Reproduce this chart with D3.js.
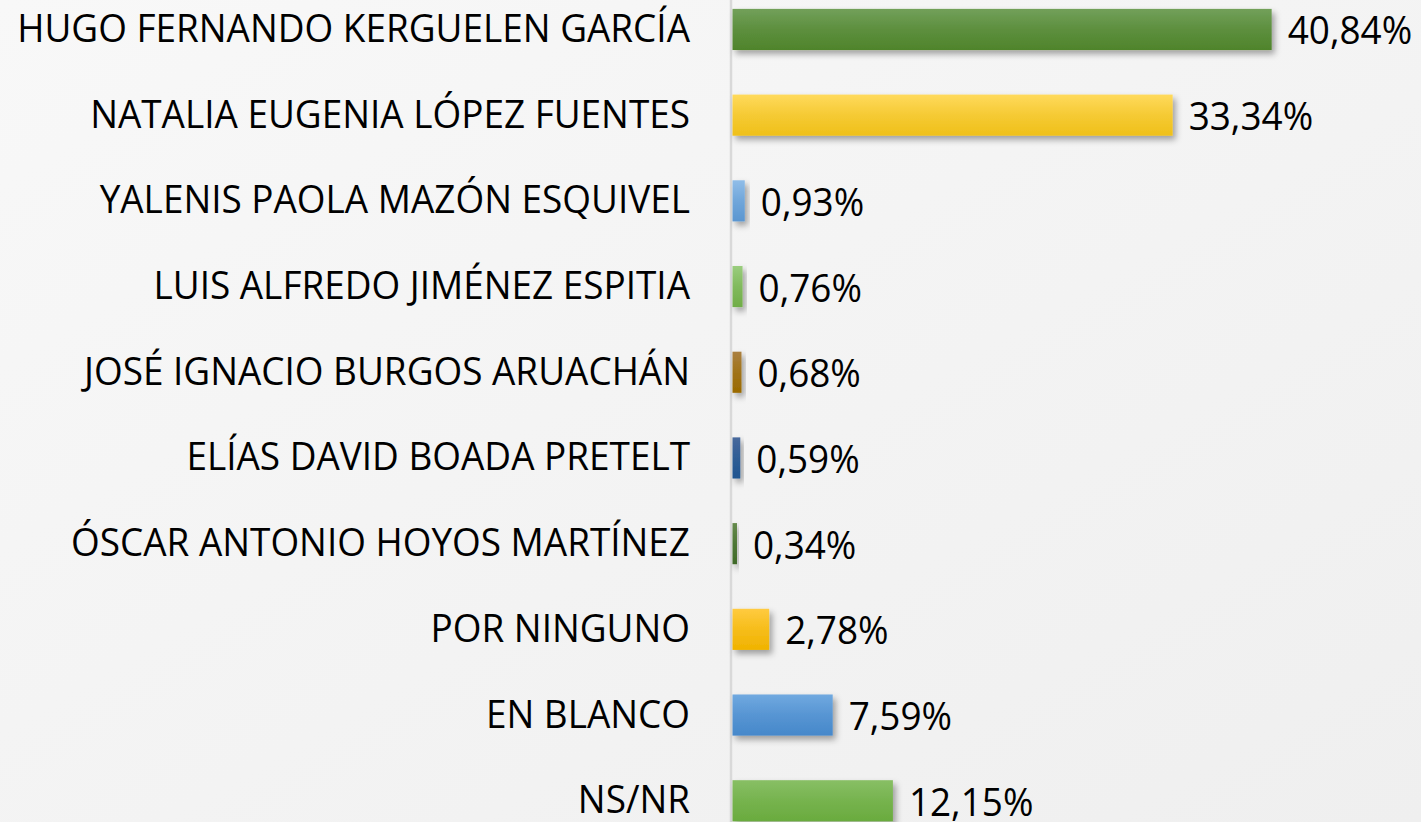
<!DOCTYPE html>
<html><head><meta charset="utf-8">
<script src="https://cdn.jsdelivr.net/npm/d3@7"></script>
<style>html,body{margin:0;padding:0;overflow:hidden;background:#f3f3f3}</style>
</head><body>
<svg id="chart" width="1421" height="822"></svg>
<script>
const categories = ["HUGO FERNANDO KERGUELEN GARCÍA","NATALIA EUGENIA LÓPEZ FUENTES","YALENIS PAOLA MAZÓN ESQUIVEL","LUIS ALFREDO JIMÉNEZ ESPITIA","JOSÉ IGNACIO BURGOS ARUACHÁN","ELÍAS DAVID BOADA PRETELT","ÓSCAR ANTONIO HOYOS MARTÍNEZ","POR NINGUNO","EN BLANCO","NS/NR"];
const values = [40.84,33.34,0.93,0.76,0.68,0.59,0.34,2.78,7.59,12.15];
const valueLabels = ["40,84%","33,34%","0,93%","0,76%","0,68%","0,59%","0,34%","2,78%","7,59%","12,15%"];
const barColors = [
  ["#72a05a","#4f842b"],
  ["#ffda5c","#efc019"],
  ["#90bde8","#5b96d0"],
  ["#9acd7e","#70ad47"],
  ["#aa8040","#9a6a00"],
  ["#48699c","#1f5590"],
  ["#658a4c","#3f6a28"],
  ["#ffcb40","#f0b300"],
  ["#70a9e0","#4688ca"],
  ["#88bf65","#6aab3e"]
];

const W = 1421, H = 822;
const svg = d3.select("#chart");
const defs = svg.append("defs");

const bg = defs.append("linearGradient").attr("id","bg").attr("x1","0").attr("y1","0").attr("x2","1").attr("y2","1");
bg.append("stop").attr("offset","0").attr("stop-color","#f8f8f8");
bg.append("stop").attr("offset","1").attr("stop-color","#efefef");
svg.append("rect").attr("width",W).attr("height",H).attr("fill","url(#bg)");

const filt = defs.append("filter").attr("id","shadow").attr("x","-20%").attr("y","-30%").attr("width","160%").attr("height","190%");
filt.append("feDropShadow").attr("dx",3).attr("dy",4).attr("stdDeviation",3).attr("flood-color","#000").attr("flood-opacity",0.35);

barColors.forEach((c,i)=>{
  const g = defs.append("linearGradient").attr("id","g"+i).attr("x1","0").attr("y1","0").attr("x2","0").attr("y2","1");
  g.append("stop").attr("offset","0").attr("stop-color",c[0]);
  g.append("stop").attr("offset","0.5").attr("stop-color",d3.interpolateRgb(c[0],c[1])(0.6));
  g.append("stop").attr("offset","1").attr("stop-color",c[1]);
});

const x = d3.scaleLinear().domain([0,52]).range([732.5,1419]);
const y = d3.scaleBand().domain(categories).range([-13.4,843.6]).paddingInner(0.52).paddingOuter(0.26);

// axis line
svg.append("line").attr("x1",731).attr("x2",731).attr("y1",0).attr("y2",H)
  .attr("stroke","#d9d9d9").attr("stroke-width",2.5);

const font = "'Open Sans', 'Noto Sans', sans-serif";
const fs = 38;

// measure compression factor
const probe = svg.append("text").attr("font-family",font).attr("font-size",fs).text(categories[0]);
const natW = probe.node().getComputedTextLength();
probe.remove();
const sx = 673 / natW;

svg.selectAll("rect.bar").data(values).join("rect").attr("class","bar")
  .attr("x",x(0)).attr("y",(d,i)=>y(categories[i]))
  .attr("width",d=>x(d)-x(0)).attr("height",y.bandwidth())
  .attr("fill",(d,i)=>`url(#g${i})`).attr("filter","url(#shadow)");

svg.selectAll("text.cat").data(categories).join("text").attr("class","cat")
  .attr("transform",d=>`translate(690,${y(d)+y.bandwidth()/2+12.5}) scale(${sx},1)`)
  .attr("text-anchor","end").attr("font-family",font).attr("font-size",fs).attr("fill","#000")
  .text(d=>d);

svg.selectAll("text.val").data(values).join("text").attr("class","val")
  .attr("transform",(d,i)=>`translate(${x(d)+16},${y(categories[i])+y.bandwidth()/2+15}) scale(${sx},1)`)
  .attr("font-family",font).attr("font-size",fs).attr("fill","#000")
  .text((d,i)=>valueLabels[i]);
</script>
</body></html>
